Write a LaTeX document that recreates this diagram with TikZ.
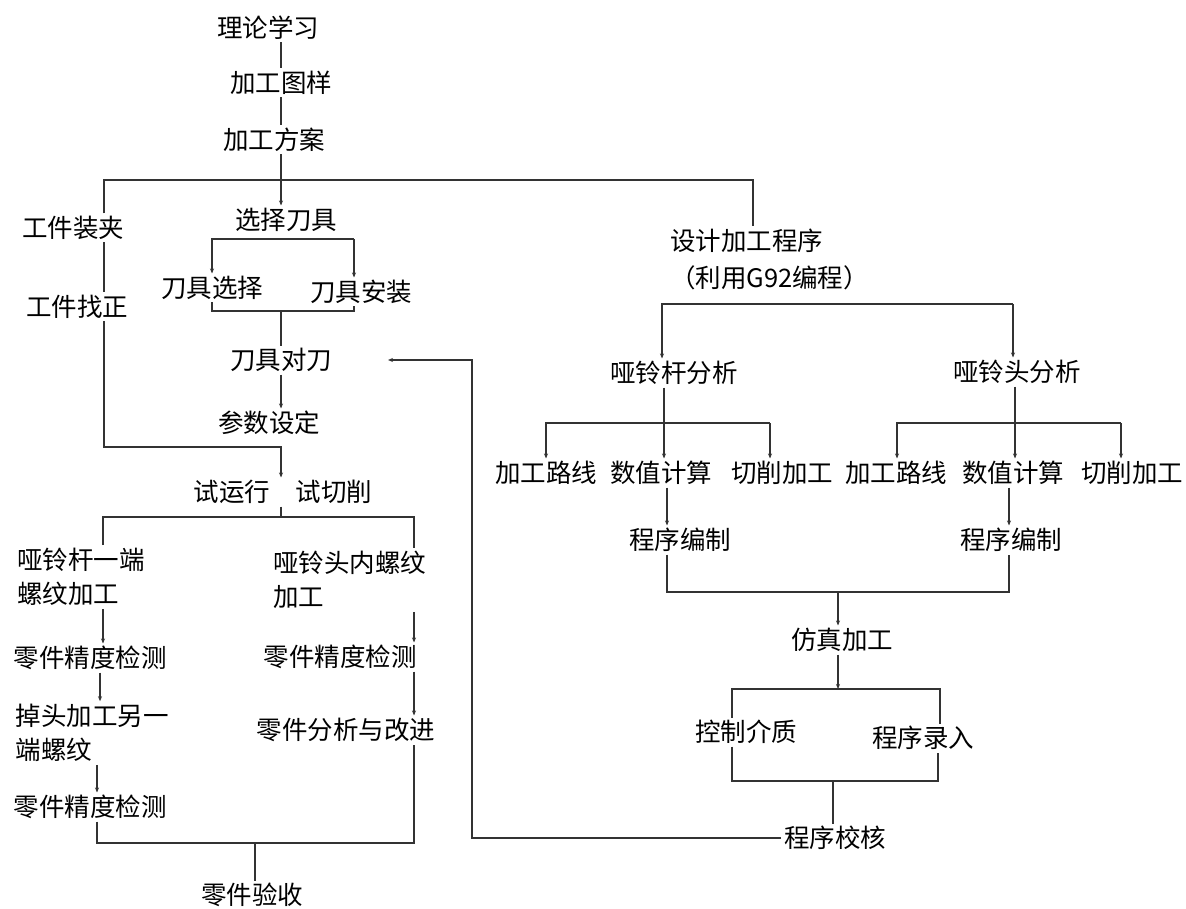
\documentclass[tikz,border=0pt]{standalone}
\usepackage{fontspec}
\setmainfont{Noto Sans CJK SC}
\usetikzlibrary{arrows.meta}
\tikzset{
  lbl/.style={font=\fontsize{25.5}{34}\selectfont, inner sep=1pt, outer sep=2pt, text height=21pt, text depth=2pt},
  lbltwo/.style={font=\fontsize{25.5}{34}\selectfont, inner sep=1pt, outer sep=2pt, align=left},
  wire/.style={draw=black!80, line width=1.2pt},
  arw/.style={wire, -{Stealth[length=5pt,width=4pt]}}
}
\begin{document}
\begin{tikzpicture}[x=1pt, y=-1pt]
			\path (0,0) rectangle (1186,909);
			% left part: clamping, tools, trial cut
			\node[lbl] (lilun) at (268,28) {理论学习};
			\node[lbl] (tuyang) at (281,83) {加工图样};
			\node[lbl] (fangan) at (274,140) {加工方案};
			\node[lbl] (zhuangjia) at (73,228) {工件装夹};
			\node[lbl] (zhaozheng) at (77,307) {工件找正};
			\node[lbl] (xuanze) at (286,220) {选择刀具};
			\node[lbl] (djxz) at (212,288) {刀具选择};
			\node[lbl] (djaz) at (361,292) {刀具安装};
			\node[lbl] (duidao) at (281,360) {刀具对刀};
			\node[lbl] (canshu) at (269,423) {参数设定};
			\node[lbl] (shiyun) at (283,492) {试运行　试切削};
			\node[lbltwo, anchor=west] (ganduan) at (14,577) {哑铃杆一端\\螺纹加工};
			\node[lbltwo, anchor=west] (toulw) at (270,580) {哑铃头内螺纹\\加工};
			\node[lbl] (jiance1) at (90,658) {零件精度检测};
			\node[lbl] (jiance2) at (340,657) {零件精度检测};
			\node[lbltwo, anchor=west] (diaotou) at (13,733) {掉头加工另一\\端螺纹};
			\node[lbl] (gaijin) at (346,730) {零件分析与改进};
			\node[lbl] (jiance3) at (90,807) {零件精度检测};
			\node[lbl] (yanshou) at (252,895) {零件验收};
			% right part: programming
			\node[lbltwo, anchor=west] (sheji) at (667,259) {设计加工程序\\[3pt]（利用G92编程）};
			\node[lbl] (ganfx) at (674,373) {哑铃杆分析};
			\node[lbl] (toufx) at (1017,372) {哑铃头分析};
			\node[lbl] (luxian1) at (546,473) {加工路线};
			\node[lbl] (jisuan1) at (661,473) {数值计算};
			\node[lbl] (qiexiao1) at (782,473) {切削加工};
			\node[lbl] (luxian2) at (896,473) {加工路线};
			\node[lbl] (jisuan2) at (1013,473) {数值计算};
			\node[lbl] (qiexiao2) at (1132,473) {切削加工};
			\node[lbl] (bianzhi1) at (680,540) {程序编制};
			\node[lbl] (bianzhi2) at (1011,540) {程序编制};
			\node[lbl] (fangzhen) at (842,640) {仿真加工};
			\node[lbl] (jiezhi) at (746,732) {控制介质};
			\node[lbl] (luru) at (923,738) {程序录入};
			\node[lbl] (jiaohe) at (835,838) {程序校核};
			% junctions
			\coordinate (jTop) at (281,180);
			\coordinate (jL) at (104,180);
			\coordinate (jR) at (753,180);
			\coordinate (jJoin) at (281,447);
			\coordinate (jXZa) at (212,239);
			\coordinate (jXZb) at (354,239);
			\coordinate (jDDa) at (212,311);
			\coordinate (jDDb) at (354,311);
			\coordinate (jSYa) at (103,517);
			\coordinate (jSYb) at (414,517);
			\coordinate (cLtwo) at (100,700);
			\coordinate (jYSa) at (97,843);
			\coordinate (jYSb) at (414,843);
			\coordinate (jYS) at (255,843);
			\coordinate (jSJa) at (662,304);
			\coordinate (jSJb) at (1013,304);
			\coordinate (jGF) at (664,423);
			\coordinate (jGFa) at (546,423);
			\coordinate (jGFb) at (770,423);
			\coordinate (jTF) at (1015,423);
			\coordinate (jTFa) at (897,423);
			\coordinate (jTFb) at (1121,423);
			\coordinate (jBZa) at (667,592);
			\coordinate (jBZb) at (1009,592);
			\coordinate (jBZ) at (838,592);
			\coordinate (jFZ) at (838,689);
			\coordinate (jFZa) at (732,689);
			\coordinate (jFZb) at (940,689);
			\coordinate (jKZa) at (732,781);
			\coordinate (jKZb) at (938,781);
			\coordinate (jKZ) at (833,781);
			\coordinate (jFB) at (472,839);
			\coordinate (fbend) at (388,360);
			% connectors, left
			\draw[wire] (lilun.south -| tuyang) -- (tuyang.north);
			\draw[wire] (tuyang.south) -- (tuyang.south |- fangan.north);
			\draw[wire] (fangan.south -| jTop) -- (jTop);
			\draw[arw] (jTop) -- (xuanze.north -| jTop);
			\draw[wire] (zhuangjia.north -| jL) -- (jL) -- (jR) -- (sheji.north -| jR);
			\draw[wire] (zhuangjia.south -| jL) -- (zhaozheng.north -| jL);
			\draw[arw] (zhaozheng.south -| jL) |- (jJoin) -- (shiyun.north -| jJoin);
			\draw[arw] (jXZb) -- (jXZa) -- (djxz.north -| jXZa);
			\draw[arw] (jXZb) -- (djaz.north -| jXZb);
			\draw[wire] (djxz.south -| jDDa) -- (jDDa) -- (jDDb) -- (djaz.south -| jDDb);
			\draw[wire] (jDDa -| duidao) -- (duidao.north);
			\draw[arw] (duidao.south) -- (canshu.north -| duidao);
			\draw[wire] (shiyun.south -| jTop) -- (jSYa -| jTop);
			\draw[wire] (ganduan.north -| jSYa) -- (jSYa) -- (jSYb) -- (toulw.north -| jSYb);
			\draw[arw] (ganduan.south -| jSYa) -- (jiance1.north -| jSYa);
			\draw[arw] (jiance1.south -| cLtwo) -- (diaotou.north -| cLtwo);
			\draw[arw] (diaotou.south -| jYSa) -- (jiance3.north -| jYSa);
			\draw[arw] (toulw.south -| jSYb) -- (jiance2.north -| jSYb);
			\draw[arw] (jiance2.south -| jSYb) -- (gaijin.north -| jSYb);
			\draw[wire] (jiance3.south -| jYSa) -- (jYSa) -- (jYSb) -- (gaijin.south -| jYSb);
			\draw[wire] (jYS) -- (yanshou.north -| jYS);
			% connectors, right
			\draw[arw] (jSJb) -- (jSJa) -- (ganfx.north -| jSJa);
			\draw[arw] (jSJb) -- (toufx.north -| jSJb);
			\draw[arw] (ganfx.south -| jGF) -- (jisuan1.north -| jGF);
			\draw[arw] (jGFb) -- (jGFa) -- (luxian1.north -| jGFa);
			\draw[arw] (jGFb) -- (qiexiao1.north -| jGFb);
			\draw[arw] (toufx.south -| jTF) -- (jisuan2.north -| jTF);
			\draw[arw] (jTFb) -- (jTFa) -- (luxian2.north -| jTFa);
			\draw[arw] (jTFb) -- (qiexiao2.north -| jTFb);
			\draw[arw] (jisuan1.south -| jBZa) -- (bianzhi1.north -| jBZa);
			\draw[arw] (jisuan2.south -| jBZb) -- (bianzhi2.north -| jBZb);
			\draw[wire] (bianzhi1.south -| jBZa) -- (jBZa) -- (jBZb) -- (bianzhi2.south -| jBZb);
			\draw[arw] (jBZ) -- (fangzhen.north -| jBZ);
			\draw[arw] (fangzhen.south -| jFZ) -- (jFZ);
			\draw[wire] (jiezhi.north -| jFZa) -- (jFZa) -- (jFZb) -- (luru.north -| jFZb);
			\draw[wire] (jiezhi.south -| jKZa) -- (jKZa) -- (jKZb) -- (luru.south -| jKZb);
			\draw[wire] (jKZ) -- (jiaohe.north -| jKZ);
			\draw[arw] (jiaohe.west) -- (jiaohe.west -| jFB) |- (fbend);
\end{tikzpicture}
\end{document}
